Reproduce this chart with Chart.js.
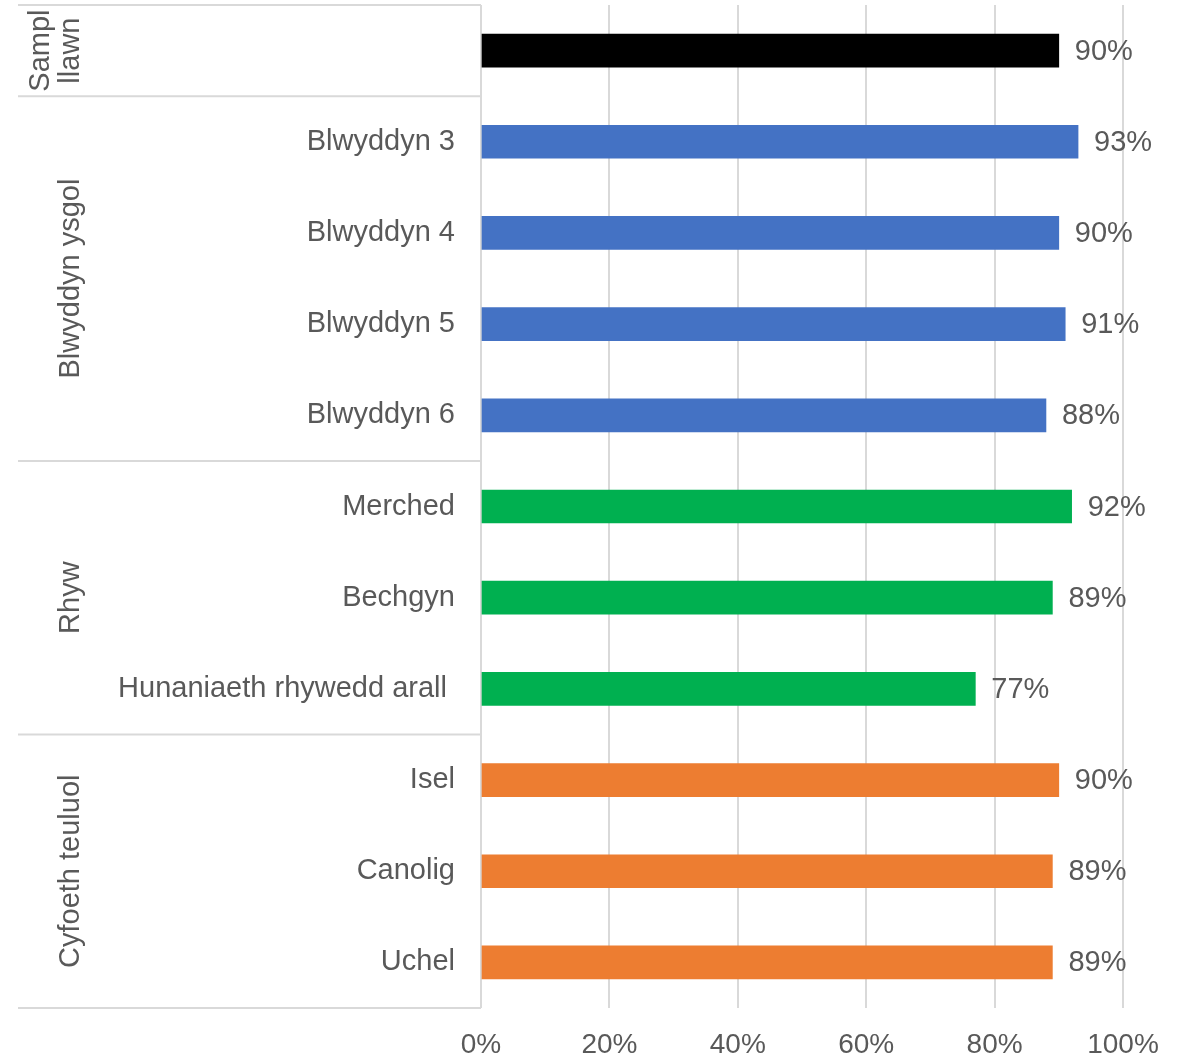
<!DOCTYPE html>
<html>
<head>
<meta charset="utf-8">
<script src="https://cdn.jsdelivr.net/npm/chart.js@4.4.1/dist/chart.umd.min.js"></script>
<style>
  html, body { margin: 0; padding: 0; background: #ffffff; }
  #wrap { width: 1183px; height: 1056px; }
</style>
</head>
<body>
<div id="wrap"><canvas id="c" width="1183" height="1056"></canvas></div>
<script>
// ---- data ----
const categories = ["", "Blwyddyn 3", "Blwyddyn 4", "Blwyddyn 5", "Blwyddyn 6",
  "Merched", "Bechgyn", "Hunaniaeth rhywedd arall ", "Isel", "Canolig", "Uchel"];
const values = [0.90, 0.93, 0.90, 0.91, 0.88, 0.92, 0.89, 0.77, 0.90, 0.89, 0.89];
const groupLabels = [["Sampl", "llawn"], ["Blwyddyn ysgol"], ["Rhyw"], ["Cyfoeth teuluol"]];
const groupSizes = [1, 4, 3, 3];
const xTicks = [0, 0.2, 0.4, 0.6, 0.8, 1.0];

// ---- styles ----
const groupColors = ["#000000", "#4472C4", "#00B050", "#ED7D31"];
const textColor = "#595959";
const lineColor = "#d9d9d9";
const FONT = "'Liberation Sans', Arial, sans-serif";

const barColors = [];
groupSizes.forEach((n, g) => { for (let i = 0; i < n; i++) barColors.push(groupColors[g]); });

const groupPlugin = {
  id: 'groupPlugin',
  afterDraw(chart) {
    const ctx = chart.ctx;
    const ys = chart.scales.y;
    const area = chart.chartArea;
    const bounds = [area.top];
    let k = 0;
    groupSizes.forEach((n) => {
      k += n;
      if (k < categories.length) {
        bounds.push((ys.getPixelForValue(k - 1) + ys.getPixelForValue(k)) / 2);
      }
    });
    bounds.push(area.bottom);
    ctx.save();
    ctx.strokeStyle = lineColor;
    ctx.lineWidth = 2;
    bounds.forEach(b => {
      ctx.beginPath();
      ctx.moveTo(18, b);
      ctx.lineTo(area.left, b);
      ctx.stroke();
    });
    ctx.fillStyle = textColor;
    ctx.font = "29px " + FONT;
    ctx.textAlign = "center";
    ctx.textBaseline = "middle";
    groupLabels.forEach((lines, g) => {
      const cy = (bounds[g] + bounds[g + 1]) / 2;
      const n = lines.length;
      ctx.save();
      ctx.translate(71, cy);
      ctx.rotate(-Math.PI / 2);
      lines.forEach((t, i) => {
        ctx.fillText(t, 0, (i - (n - 1)) * 30);
      });
      ctx.restore();
    });
    const meta = chart.getDatasetMeta(0);
    ctx.textAlign = "left";
    ctx.textBaseline = "middle";
    meta.data.forEach((bar, i) => {
      ctx.fillText(Math.round(values[i] * 100) + "%", bar.x + 16, bar.y + 1);
    });
    ctx.restore();
  }
};

new Chart(document.getElementById('c'), {
  type: 'bar',
  data: {
    labels: categories,
    datasets: [{
      data: values,
      backgroundColor: barColors,
      borderWidth: 0,
      barThickness: 33
    }]
  },
  options: {
    indexAxis: 'y',
    responsive: false,
    animation: false,
    events: [],
    layout: { padding: { top: 5, right: 60, left: 0, bottom: 0 } },
    plugins: { legend: { display: false }, tooltip: { enabled: false } },
    scales: {
      x: {
        min: 0, max: 1,
        afterBuildTicks: (s) => { s.ticks = xTicks.map(v => ({ value: v })); },
        afterFit: (s) => { s.height = 48; s.paddingLeft = 0; s.paddingRight = 0; },
        ticks: {
          color: textColor,
          font: { family: FONT, size: 28 },
          padding: 20,
          maxRotation: 0,
          callback: (v) => Math.round(v * 100) + "%"
        },
        grid: { color: lineColor, lineWidth: 2, drawTicks: false },
        border: { display: false }
      },
      y: {
        afterFit: (s) => { s.width = 481; s.paddingTop = 0; s.paddingBottom = 0; },
        ticks: {
          color: textColor,
          font: { family: FONT, size: 29 },
          padding: 26,
          autoSkip: false
        },
        grid: { display: false, drawTicks: false },
        border: { display: false }
      }
    }
  },
  plugins: [groupPlugin]
});
</script>
</body>
</html>
